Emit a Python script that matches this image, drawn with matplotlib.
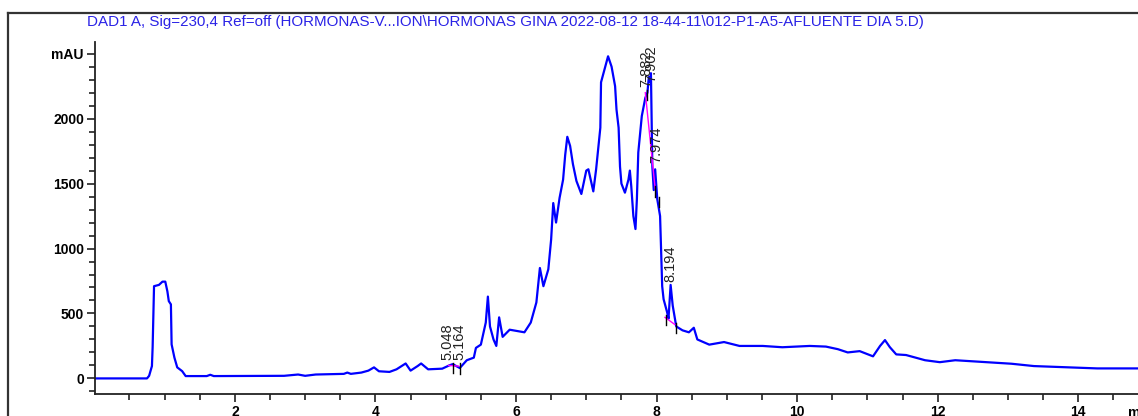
import matplotlib
matplotlib.use("Agg")
import matplotlib.pyplot as plt
from matplotlib.lines import Line2D
from matplotlib.ticker import MultipleLocator, FixedLocator, FixedFormatter

plt.rcParams['font.family'] = ['Liberation Sans', 'DejaVu Sans']

title = ("DAD1 A, Sig=230,4 Ref=off (HORMONAS-V...ION\\HORMONAS GINA "
         "2022-08-12 18-44-11\\012-P1-A5-AFLUENTE DIA 5.D)")

time_min = [0.0, 0.75, 0.78, 0.82, 0.83, 0.85, 0.92, 0.97, 1.01, 1.04, 1.06, 1.09,
            1.1, 1.14, 1.18, 1.25, 1.3, 1.6, 1.65, 1.7, 2.7, 2.9, 3.0, 3.15, 3.55,
            3.6, 3.65, 3.8, 3.9, 3.98, 4.05, 4.2, 4.3, 4.43, 4.5, 4.6, 4.65, 4.75,
            4.95, 5.05, 5.1, 5.2, 5.3, 5.4, 5.43, 5.5, 5.57, 5.6, 5.63, 5.68, 5.72,
            5.76, 5.81, 5.91, 6.12, 6.21, 6.29, 6.34, 6.39, 6.46, 6.5, 6.53, 6.57,
            6.62, 6.67, 6.7, 6.73, 6.77, 6.81, 6.86, 6.93, 7.0, 7.03, 7.1, 7.14,
            7.2, 7.21, 7.27, 7.31, 7.36, 7.41, 7.43, 7.46, 7.48, 7.5, 7.55, 7.6,
            7.62, 7.64, 7.67, 7.7, 7.72, 7.74, 7.79, 7.84, 7.87, 7.89, 7.91, 7.92,
            7.94, 7.96, 7.98, 8.01, 8.05, 8.08, 8.1, 8.15, 8.17, 8.2, 8.23, 8.28,
            8.37, 8.46, 8.53, 8.58, 8.75, 8.96, 9.18, 9.51, 9.79, 10.18, 10.41,
            10.58, 10.72, 10.89, 11.08, 11.18, 11.25, 11.32, 11.41, 11.55, 11.7,
            11.82, 12.03, 12.25, 12.69, 13.05, 13.37, 14.27, 14.9]

absorbance = [0, 0, 20, 95, 240, 710, 720, 745, 745, 670, 595, 570,
              262, 160, 85, 56, 18, 18, 28, 18, 20, 30, 20, 30, 35,
              45, 35, 45, 60, 85, 55, 50, 70, 115, 60, 95, 115, 70,
              75, 100, 110, 80, 140, 160, 235, 260, 430, 630, 400, 300, 250,
              470, 320, 375, 355, 430, 585, 850, 710, 840, 1070, 1350, 1200,
              1390, 1530, 1720, 1860, 1790, 1650, 1520, 1420, 1600, 1610, 1440, 1610,
              1930, 2280, 2400, 2480, 2400, 2250, 2070, 1930, 1630, 1500, 1430, 1530,
              1600, 1480, 1250, 1150, 1380, 1740, 2020, 2160, 2200, 2320, 2280, 2350,
              1630, 1450, 1610, 1380, 1250, 710, 610, 510, 460, 720, 560, 400,
              370, 355, 390, 300, 260, 280, 250, 250, 240, 250, 245,
              225, 200, 210, 170, 250, 295, 240, 185, 180, 158,
              140, 125, 140, 125, 113, 95, 77, 77]

peak_labels = ["5.048", "5.164", "7.882", "7.902", "7.974", "8.194"]
peak_label_x = [5.03, 5.20, 7.86, 7.93, 8.00, 8.20]
peak_label_y = [140, 140, 2240, 2280, 1660, 745]

baseline_segments_t = [[5.04, 5.18], [7.84, 7.98], [8.12, 8.26]]
baseline_segments_v = [[100, 95], [2200, 1460], [470, 415]]
marker_t = [5.1, 5.2, 7.86, 7.98, 8.03, 8.13, 8.27]
marker_v = [100, 95, 2200, 1460, 1380, 470, 410]

y_ticks = [0, 500, 1000, 1500, 2000, 2500]
y_tick_labels = ["0", "500", "1000", "1500", "2000", "mAU"]
x_ticks = [2, 4, 6, 8, 10, 12, 14]
x_tick_labels = ["2", "4", "6", "8", "10", "12", "14"]

W, H = 1138, 416
fig = plt.figure(figsize=(W / 100, H / 100), dpi=100)

# outer frame
fig.add_artist(Line2D([8 / W, 8 / W], [0, 1 - 13 / H], color="#333333", lw=1.6,
                      transform=fig.transFigure))
fig.add_artist(Line2D([8 / W, 1], [1 - 13 / H, 1 - 13 / H], color="#333333", lw=1.6,
                      transform=fig.transFigure))

ax_left, ax_top, ax_bottom = 95, 42, 394
ax = fig.add_axes([ax_left / W, 1 - ax_bottom / H, 1 - ax_left / W, (ax_bottom - ax_top) / H])
ax.set_xlim(0.01, 14.85)
ax.set_ylim(-120, 2590)

ax.plot(time_min, absorbance, color="#0000ff", lw=1.6)

for ts, vs in zip(baseline_segments_t, baseline_segments_v):
    ax.plot(ts, vs, color="#ff00ff", lw=1.0)
for t, v in zip(marker_t, marker_v):
    ax.plot([t, t], [v - 60, v + 20], color="black", lw=1.0)

for lab, x, y in zip(peak_labels, peak_label_x, peak_label_y):
    ax.text(x, y, lab, rotation=90, ha="center", va="bottom", fontsize=10.5,
            color="#222222")

for s in ["top", "right"]:
    ax.spines[s].set_visible(False)
for s in ["left", "bottom"]:
    ax.spines[s].set_linewidth(1.3)
    ax.spines[s].set_color("#222222")

ax.yaxis.set_major_locator(FixedLocator(y_ticks))
ax.yaxis.set_major_formatter(FixedFormatter(y_tick_labels))
ax.yaxis.set_minor_locator(MultipleLocator(100))
ax.xaxis.set_major_locator(FixedLocator(x_ticks))
ax.xaxis.set_major_formatter(FixedFormatter(x_tick_labels))
ax.xaxis.set_minor_locator(MultipleLocator(0.5))
ax.tick_params(which="major", length=6, width=1.2, labelsize=10, color="#222222", pad=2)
ax.tick_params(which="minor", length=4, width=1.2, color="#222222")
for lab in ax.get_yticklabels():
    lab.set_fontweight("bold")
for lab in ax.get_xticklabels():
    lab.set_fontweight("bold")

fig.text(1128 / W, 1 - 406 / H, "min", ha="left", va="top", fontsize=10, fontweight="bold")

fig.text(87 / W, 1 - 22 / H, title, ha="left", va="center", fontsize=10.9, color="#2a22e6")

fig.savefig("out.png", dpi=100)
